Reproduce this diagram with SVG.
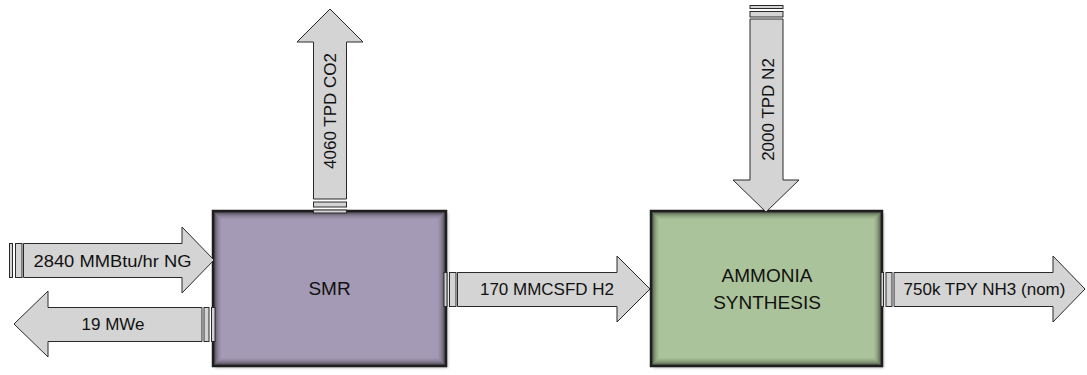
<svg xmlns="http://www.w3.org/2000/svg" width="1087" height="375" viewBox="0 0 1087 375">
<defs>
<filter id="drop" x="-10%" y="-10%" width="120%" height="120%">
<feGaussianBlur in="SourceAlpha" stdDeviation="1.5"/>
<feOffset dx="1.5" dy="1.5"/>
<feComponentTransfer><feFuncA type="linear" slope="0.25"/></feComponentTransfer>
<feMerge><feMergeNode/><feMergeNode in="SourceGraphic"/></feMerge>
</filter>
</defs>
<style>
.box{stroke:#1e1e1e;stroke-width:2.5;fill:none}
.sh{fill:none;stroke:#000}
.arrow{fill:#d4d4d4;stroke:#2a2a2a;stroke-width:1}
.bar{fill:#d4d4d4;stroke:#2a2a2a;stroke-width:1}
.lbl{font-family:"Liberation Sans",Arial,sans-serif;font-size:17px;fill:#111;text-anchor:middle}
.node{font-family:"Liberation Sans",Arial,sans-serif;font-size:19px;fill:#111;text-anchor:middle}
</style>
<rect width="1087" height="375" fill="#fff"/>
<g id="smr">
<rect x="213" y="211" width="233" height="155" fill="#a59ab5" filter="url(#drop)"/>
<g class="sh">
<rect x="214.5" y="212.5" width="230" height="152" stroke-opacity="0.5"/>
<rect x="215.5" y="213.5" width="228" height="150" stroke-opacity="0.38"/>
<rect x="216.5" y="214.5" width="226" height="148" stroke-opacity="0.28"/>
<rect x="217.5" y="215.5" width="224" height="146" stroke-opacity="0.2"/>
<rect x="218.5" y="216.5" width="222" height="144" stroke-opacity="0.13"/>
<rect x="219.5" y="217.5" width="220" height="142" stroke-opacity="0.08"/>
<rect x="220.5" y="218.5" width="218" height="140" stroke-opacity="0.04"/>
</g>
<rect class="box" x="213" y="211" width="233" height="155"/>
<text class="node" x="329.5" y="295">SMR</text>
</g>
<g id="ammonia">
<rect x="651" y="211" width="231" height="155" fill="#abc39a" filter="url(#drop)"/>
<g class="sh">
<rect x="652.5" y="212.5" width="228" height="152" stroke-opacity="0.5"/>
<rect x="653.5" y="213.5" width="226" height="150" stroke-opacity="0.38"/>
<rect x="654.5" y="214.5" width="224" height="148" stroke-opacity="0.28"/>
<rect x="655.5" y="215.5" width="222" height="146" stroke-opacity="0.2"/>
<rect x="656.5" y="216.5" width="220" height="144" stroke-opacity="0.13"/>
<rect x="657.5" y="217.5" width="218" height="142" stroke-opacity="0.08"/>
<rect x="658.5" y="218.5" width="216" height="140" stroke-opacity="0.04"/>
</g>
<rect class="box" x="651" y="211" width="231" height="155"/>
<text class="node" x="767" y="282">AMMONIA</text>
<text class="node" x="767" y="309">SYNTHESIS</text>
</g>
<g id="connectors">
<g id="ng">
<rect class="bar" x="9.5" y="243.5" width="3" height="34"/>
<rect class="bar" x="15.5" y="243.5" width="6.5" height="34"/>
<polygon class="arrow" points="23.5,243.5 182,243.5 182,227 214,260 182,293 182,277.5 23.5,277.5"/>
<text class="lbl" x="112.5" y="267" textLength="158" lengthAdjust="spacingAndGlyphs">2840 MMBtu/hr NG</text>
</g>
<g id="mwe">
<polygon class="arrow" points="202,307.5 48,307.5 48,291 14,324 48,357 48,341.5 202,341.5"/>
<rect class="bar" x="204" y="307.5" width="5" height="34"/>
<rect class="bar" x="211.5" y="307.5" width="3.5" height="34"/>
<text class="lbl" x="113" y="330">19 MWe</text>
</g>
<g id="co2">
<polygon class="arrow" points="313.5,199 313.5,42 297,42 330,9 363,42 346.5,42 346.5,199"/>
<rect class="bar" x="313.5" y="202" width="33" height="5"/>
<rect class="bar" x="313.5" y="210" width="33" height="3"/>
<text class="lbl" transform="translate(335.5,111) rotate(-90)">4060 TPD CO2</text>
</g>
<g id="h2">
<rect class="bar" x="444" y="272.5" width="3" height="34"/>
<rect class="bar" x="449.5" y="272.5" width="6.5" height="34"/>
<polygon class="arrow" points="457.5,272.5 617,272.5 617,256 650,289 617,322 617,306.5 457.5,306.5"/>
<text class="lbl" x="547" y="295">170 MMCSFD H2</text>
</g>
<g id="n2">
<rect class="bar" x="750" y="5.5" width="33" height="3"/>
<rect class="bar" x="750" y="11.5" width="33" height="5.5"/>
<polygon class="arrow" points="750,19 783,19 783,180 799,180 766,212 733,180 750,180"/>
<text class="lbl" transform="translate(773.5,109.5) rotate(-90)">2000 TPD N2</text>
</g>
<g id="nh3">
<rect class="bar" x="881" y="272.5" width="2.5" height="34"/>
<rect class="bar" x="886" y="272.5" width="6" height="34"/>
<polygon class="arrow" points="894,272.5 1053,272.5 1053,256 1085,289 1053,322 1053,306.5 894,306.5"/>
<text class="lbl" x="984.5" y="295">750k TPY NH3 (nom)</text>
</g>
</g>
</svg>
